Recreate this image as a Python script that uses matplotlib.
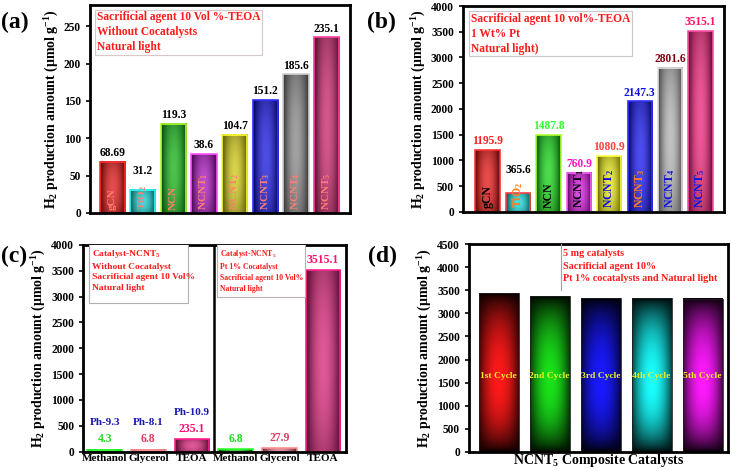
import numpy as np
import matplotlib
matplotlib.use("Agg")
import matplotlib.pyplot as plt
from matplotlib.colors import to_rgb
from matplotlib.patches import Rectangle

plt.rcParams['font.family'] = ['Liberation Serif', 'DejaVu Serif']
plt.rcParams['font.weight'] = 'bold'
plt.rcParams['mathtext.fontset'] = 'custom'
plt.rcParams['mathtext.rm'] = 'Liberation Serif:bold'
plt.rcParams['mathtext.it'] = 'Liberation Serif:bold'
plt.rcParams['mathtext.bf'] = 'Liberation Serif:bold'

# ---- data ----
catalysts = ['gCN', 'TiO$_2$', 'NCN', 'NCNT$_1$', 'NCNT$_2$', 'NCNT$_3$', 'NCNT$_4$', 'NCNT$_5$']

# (a) without cocatalyst: bar heights as drawn, labels as printed
a_heights = [68.69, 31.2, 119.3, 78.6, 104.7, 151.2, 185.6, 235.1]
a_labels = ['68.69', '31.2', '119.3', '38.6', '104.7', '151.2', '185.6', '235.1']
a_colors = ['#d80000', '#00c4c4', '#00a800', '#a000b4', '#c8c000', '#0000d8', '#7a7a7a', '#c0105a']
a_edges = ['#ff3030', '#30ffff', '#b0ff30', '#ff50ff', '#ffff30', '#3030ff', '#d0d0d0', '#ff40a0']

# (b) with 1 wt% Pt
b_values = [1195.9, 365.6, 1487.8, 760.9, 1080.9, 2147.3, 2801.6, 3515.1]
b_colors = ['#e00000', '#00d0d0', '#00cc00', '#d000d8', '#e0e000', '#0000e8', '#a8a8a8', '#e8106c']
b_edges = ['#ff3030', '#ff4040', '#b0ff30', '#ff60ff', '#ffff40', '#3030ff', '#e0e0e0', '#ff50a8']
b_value_colors = ['#ff2020', '#000000', '#30ff30', '#ff10c0', '#ff4040', '#1010e0', '#800010', '#ff1060']
b_name_colors = ['#000000', '#ff8020', '#000000', '#000000', '#1010e0', '#ff8020', '#1010e0', '#1010e0']

# (c) sacrificial agents
c_agents = ['Methanol', 'Glycerol', 'TEOA', 'Methanol', 'Glycerol', 'TEOA']
c_heights = [40, 40, 250, 50, 75, 3515.1]
c_labels = ['4.3', '6.8', '235.1', '6.8', '27.9', '3515.1']
c_ph = ['Ph-9.3', 'Ph-8.1', 'Ph-10.9', '', '', '']
c_colors = ['#00c000', '#e06080', '#d0106a', '#00c000', '#e06080', '#d0106a']
c_edges = ['#30ff30', '#ff9090', '#ff2090', '#30ff30', '#ff9090', '#ff2090']
c_label_colors = ['#20e020', '#e04060', '#ff1070', '#20e020', '#e04060', '#ff1070']

# (d) recycling
d_cycles = ['1st Cycle', '2nd Cycle', '3rd Cycle', '4th Cycle', '5th Cycle']
d_values = [3450, 3380, 3330, 3330, 3320]
d_colors = ['#ff0000', '#00e000', '#0000ff', '#00ffff', '#ff00ff']

ylabel = 'H$_2$ production amount (μmol g$^{-1}$)'


def shade_bars(ax, bars, colors, style='box'):
    # draw a dark-edge / bright-centre gradient under each bar
    u = np.linspace(-1, 1, 80)
    v = np.linspace(0, 1, 80)
    U, V = np.meshgrid(u, v)
    if style == 'box':
        t = (1 - U ** 2) * (1 - 0.35 * (2 * V - 1) ** 2)
        dk, lt = 0.4, 0.3
    else:
        W = np.clip((V - 0.45) / 0.55, -1, 1)
        W = np.where(V < 0.45, (V - 0.45) / 0.45, W)
        t = (1 - 0.75 * U ** 2) * (1 - W ** 2) ** 0.8
        dk, lt = 0.05, 0.1
    for bar, col in zip(bars, colors):
        base = np.array(to_rgb(col))
        dark = base * dk
        light = base + (1 - base) * lt
        img = dark + (light - dark) * t[..., None]
        x0, y0 = bar.get_xy()
        ax.imshow(np.clip(img, 0, 1), extent=(x0, x0 + bar.get_width(), y0, y0 + bar.get_height()),
                  origin='lower', aspect='auto', interpolation='bilinear', zorder=1.5)


def style_axes(ax):
    for s in ax.spines.values():
        s.set_linewidth(2)
    ax.tick_params(axis='y', direction='out', length=3, width=1.2, labelsize=8.3)
    ax.set_ylabel(ylabel, fontsize=10, fontweight='bold', labelpad=2)


fig = plt.figure(figsize=(7.32, 4.71), dpi=100)
ax_a = fig.add_axes([0.123, 0.548, 0.355, 0.442])
ax_b = fig.add_axes([0.6325, 0.5505, 0.3566, 0.4367])
ax_c = fig.add_axes([0.1138, 0.041, 0.3585, 0.439])
ax_d = fig.add_axes([0.641, 0.041, 0.353, 0.4403])

# ---- (a) ----
xa = np.arange(len(catalysts))
bars = ax_a.bar(xa, a_heights, 0.82, facecolor='none', edgecolor=a_edges, linewidth=1.2, zorder=2)
shade_bars(ax_a, bars, a_colors)
for x, h, lab in zip(xa, a_heights, a_labels):
    ax_a.annotate(lab, (x, max(h, 45)), xytext=(0, 2), textcoords='offset points',
                  ha='center', va='bottom', fontsize=8.3, fontweight='bold')
for x, name in zip(xa, catalysts):
    ax_a.text(x, 4, name, rotation=90, ha='center', va='bottom', fontsize=8,
              color='#ff8070', zorder=3)
ax_a.set_xlim(-0.72, 7.76)
ax_a.set_ylim(0, 279)
ax_a.set_yticks(np.arange(0, 251, 50))
ax_a.set_xticks([])
ax_a.text(0.027, 0.968, 'Sacrificial agent 10 Vol %-TEOA\nWithout Cocatalysts\nNatural light',
          transform=ax_a.transAxes, ha='left', va='top', fontsize=8.3, color='#ff1a1a',
          linespacing=1.3, zorder=4,
          bbox=dict(boxstyle='square,pad=0.15', facecolor='white', edgecolor='#d8c8c8', linewidth=0.8))
style_axes(ax_a)

# ---- (b) ----
bars = ax_b.bar(xa, b_values, 0.8, facecolor='none', edgecolor=b_edges, linewidth=1.2, zorder=2)
shade_bars(ax_b, bars, b_colors)
for x, h, c in zip(xa, b_values, b_value_colors):
    ax_b.annotate(f'{h:.1f}', (x, max(h, 640)), xytext=(0, 2), textcoords='offset points',
                  ha='center', va='bottom', fontsize=8.3, fontweight='bold', color=c)
for x, name, c in zip(xa, catalysts, b_name_colors):
    ax_b.text(x, 80, name, rotation=90, ha='center', va='bottom', fontsize=8.5,
              color=c, zorder=3)
ax_b.set_xlim(-0.81, 7.77)
ax_b.set_ylim(0, 4000)
ax_b.set_yticks(np.arange(0, 4001, 500))
ax_b.set_xticks([])
ax_b.text(0.03, 0.965, 'Sacrificial agent 10 vol%-TEOA\n1 Wt% Pt\nNatural light)',
          transform=ax_b.transAxes, ha='left', va='top', fontsize=8.3, color='#ff1a1a',
          linespacing=1.3, zorder=4,
          bbox=dict(boxstyle='square,pad=0.15', facecolor='white', edgecolor='#c8c8c8', linewidth=0.8))
style_axes(ax_b)

# ---- (c) ----
xc = np.arange(len(c_agents))
bars = ax_c.bar(xc, c_heights, 0.8, facecolor='none', edgecolor=c_edges, linewidth=1.2, zorder=2)
shade_bars(ax_c, bars, c_colors)
for x, h, lab, c, ph in zip(xc, c_heights, c_labels, c_label_colors, c_ph):
    ax_c.annotate(lab, (x, h), xytext=(0, 3), textcoords='offset points',
                  ha='center', va='bottom', fontsize=8.5, fontweight='bold', color=c)
    if ph:
        ax_c.annotate(ph, (x, h), xytext=(0, 16), textcoords='offset points',
                      ha='center', va='bottom', fontsize=8, fontweight='bold', color='#1818b0')
ax_c.axvline(2.5, color='black', linewidth=1.8, zorder=3)
ax_c.set_xlim(-0.49, 5.52)
ax_c.set_ylim(0, 4000)
ax_c.set_yticks(np.arange(0, 4001, 500))
ax_c.set_xticks(xc)
ax_c.set_xticklabels(c_agents, fontsize=8, fontweight='bold')
ax_c.tick_params(axis='x', length=0, pad=2)
ax_c.add_patch(Rectangle((0.02, 0.72), 0.38, 0.29, transform=ax_c.transAxes, facecolor='white',
                         edgecolor='#b0b0b0', linewidth=0.8, zorder=3))
ax_c.text(0.034, 0.985, 'Catalyst-NCNT$_5$\nWithout Cocatalyst\nSacrificial agent 10 Vol%\nNatural light',
          transform=ax_c.transAxes, ha='left', va='top', fontsize=6.8, color='#ff1a1a',
          linespacing=1.45, zorder=4)
ax_c.add_patch(Rectangle((0.508, 0.747), 0.337, 0.26, transform=ax_c.transAxes, facecolor='white',
                         edgecolor='#c0b0b0', linewidth=0.8, zorder=3))
ax_c.text(0.52, 0.985, 'Catalyst-NCNT$_5$\nPt 1% Cocatalyst\nSacrificial agent 10 Vol%\nNatural light',
          transform=ax_c.transAxes, ha='left', va='top', fontsize=5.6, color='#ff1a1a',
          linespacing=1.5, zorder=4)
style_axes(ax_c)

# ---- (d) ----
xd = np.arange(len(d_cycles))
bars = ax_d.bar(xd, d_values, 0.78, facecolor='none', edgecolor='#202020', linewidth=0.6, zorder=2)
shade_bars(ax_d, bars, d_colors, style='glow')
for x, name in zip(xd, d_cycles):
    ax_d.text(x, 1650, name, ha='center', va='center', fontsize=6.8, color='#f0f020', zorder=3)
ax_d.set_xlim(-0.58, 4.49)
ax_d.set_ylim(0, 4500)
ax_d.set_yticks(np.arange(0, 4501, 500))
ax_d.set_xticks([])
ax_d.set_xlabel('NCNT$_5$ Composite Catalysts', fontsize=10, fontweight='bold', labelpad=0)
ax_d.plot([0.355, 0.355], [0.78, 1.0], transform=ax_d.transAxes, color='#a0a0a0', linewidth=0.8, zorder=3)
ax_d.text(0.364, 0.975, '5 mg catalysts\nSacrificial agent 10%\nPt 1% cocatalysts and Natural light',
          transform=ax_d.transAxes, ha='left', va='top', fontsize=7.3, color='#ff1a1a',
          linespacing=1.45, zorder=4)
style_axes(ax_d)

# panel letters
for lab, (x, y) in zip(['(a)', '(b)', '(c)', '(d)'],
                       [(0.002, 0.953), (0.502, 0.953), (0.002, 0.455), (0.503, 0.455)]):
    fig.text(x, y, lab, fontsize=17, fontweight='bold', ha='left', va='center')

fig.savefig('out.png', dpi=100)
